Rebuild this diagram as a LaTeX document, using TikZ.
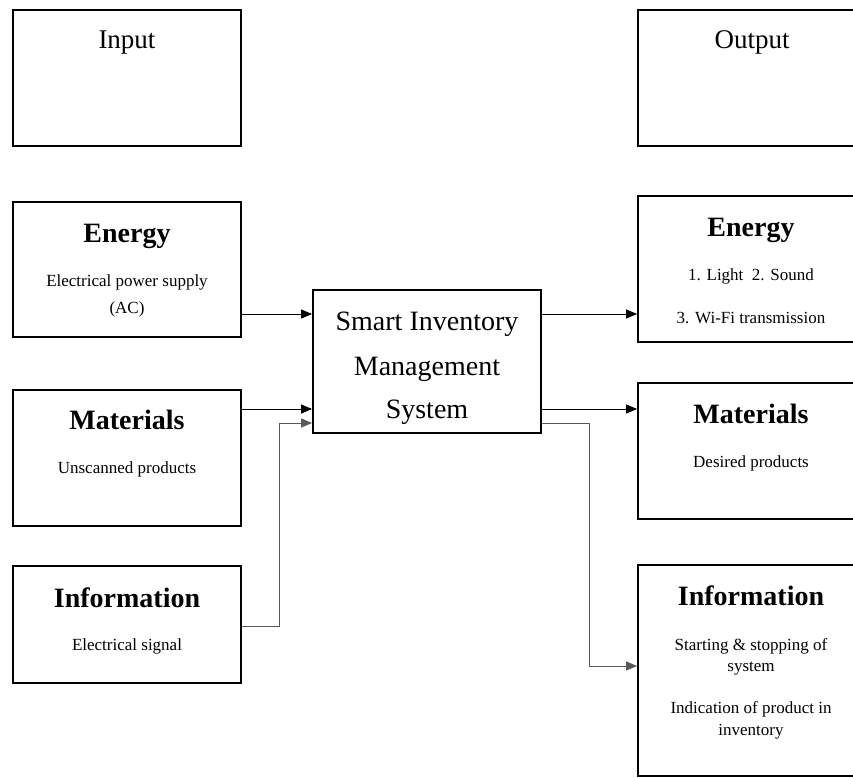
\documentclass[tikz,border=0pt]{standalone}
\usepackage{fontspec}
\setmainfont{Liberation Serif}
\usetikzlibrary{arrows.meta}
\begin{document}
\begin{tikzpicture}[x=1pt,y=-1pt,
  box/.style={draw=black,line width=1.8pt,rectangle,inner sep=0pt},
  title/.style={anchor=base,font=\fontsize{28}{32}\selectfont\bfseries},
  head/.style={anchor=base,font=\fontsize{27}{32}\selectfont},
  small/.style={anchor=base,font=\fontsize{17}{20}\selectfont},
  big/.style={anchor=base,font=\fontsize{28}{32}\selectfont},
  arr/.style={line width=1pt,-{Triangle[length=11pt,width=9pt]}},
  garr/.style={draw=black!65,line width=1pt,-{Triangle[length=11pt,width=9pt]}}]
\useasboundingbox (0,0) rectangle (853,778);
\clip (0,0) rectangle (853,778);
% left boxes
\node[box,minimum width=228pt,minimum height=136pt] (inp) at (127,78) {};
\node[box,minimum width=228pt,minimum height=135pt] (ein) at (127,269.5) {};
\node[box,minimum width=228pt,minimum height=136pt] (min) at (127,458) {};
\node[box,minimum width=228pt,minimum height=117pt] (iin) at (127,624.5) {};
% central
\node[box,minimum width=228pt,minimum height=143pt] (sys) at (427,361.5) {};
% right boxes
\node[box,minimum width=228pt,minimum height=136pt] (outp) at (752,78) {};
\node[box,minimum width=228pt,minimum height=146pt] (eout) at (752,269) {};
\node[box,minimum width=228pt,minimum height=136pt] (mout) at (752,451) {};
\node[box,minimum width=228pt,minimum height=211pt] (iout) at (752,670.5) {};
% texts
\node[head] (tinp) at (127,49) {Input};
\node[head] (toutp) at (752,49) {Output};
\node[title] (te1) at (127,242) {Energy};
\node[small] (te2) at (127,286) {Electrical power supply};
\node[small] (te3) at (127,313) {(AC)};
\node[title] (tm1) at (127,429) {Materials};
\node[small] (tm2) at (127,473) {Unscanned products};
\node[title] (ti1) at (127,607) {Information};
\node[small] (ti2) at (127,650) {Electrical signal};
\node[big] (ts1) at (427,330) {Smart Inventory};
\node[big] (ts2) at (427,375) {Management};
\node[big] (ts3) at (427,418) {System};
\node[title] (tre1) at (751,236) {Energy};
\node[small] (tre2) at (751,280) {1. Light\ \ 2. Sound};
\node[small] (tre3) at (751,323) {3. Wi-Fi transmission};
\node[title] (trm1) at (751,423) {Materials};
\node[small] (trm2) at (751,467) {Desired products};
\node[title] (tri1) at (751,605) {Information};
\node[small] (tri2) at (751,650) {Starting \& stopping of};
\node[small] (tri3) at (751,671) {system};
\node[small] (tri4) at (751,713) {Indication of product in};
\node[small] (tri5) at (751,735) {inventory};
% connectors
\coordinate (ye) at (0,314);
\coordinate (ym) at (0,409);
\coordinate (yi) at (0,423);
\coordinate (yii) at (0,626);
\coordinate (yio) at (0,666);
\coordinate (xi) at (279,0);
\coordinate (xo) at (589,0);
\draw[arr] (ye -| ein.east) -- (ye -| sys.west);
\draw[arr] (ym -| min.east) -- (ym -| sys.west);
\draw[garr] (yii -| iin.east) -- (yii -| xi) -- (yi -| xi) -- (yi -| sys.west);
\draw[arr] (ye -| sys.east) -- (ye -| eout.west);
\draw[arr] (ym -| sys.east) -- (ym -| mout.west);
\draw[garr] (yi -| sys.east) -- (yi -| xo) -- (yio -| xo) -- (yio -| iout.west);
\end{tikzpicture}
\end{document}
